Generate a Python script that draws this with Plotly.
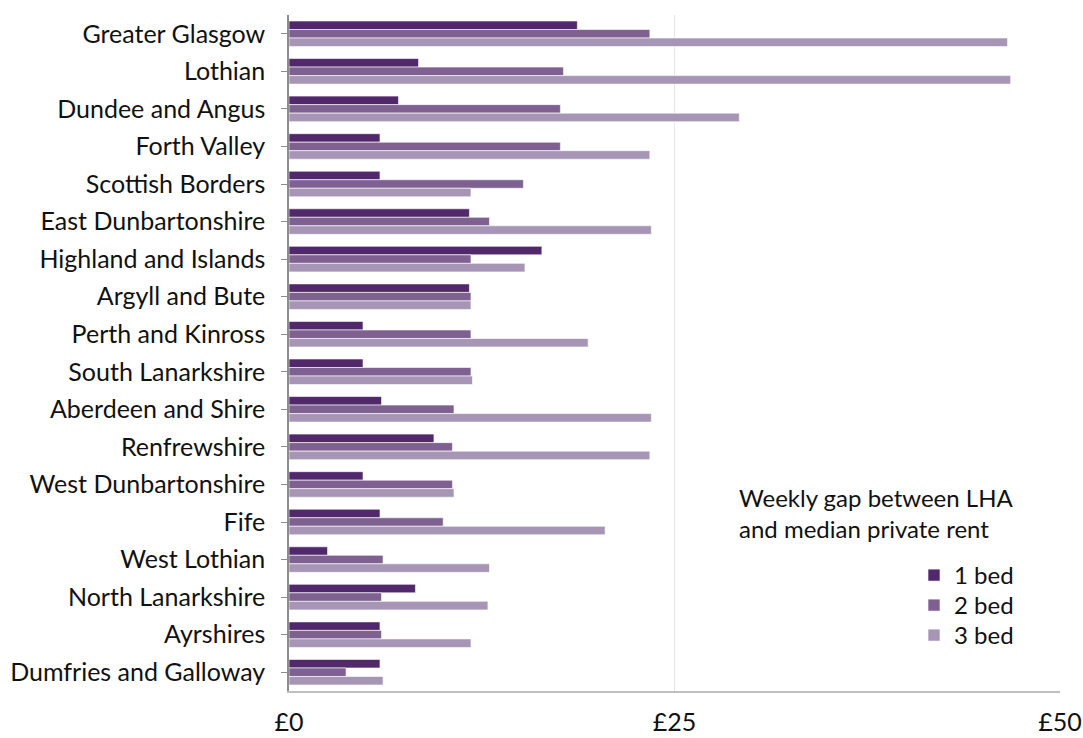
import plotly.graph_objects as go

regions = [
    "Greater Glasgow", "Lothian", "Dundee and Angus", "Forth Valley",
    "Scottish Borders", "East Dunbartonshire", "Highland and Islands",
    "Argyll and Bute", "Perth and Kinross", "South Lanarkshire",
    "Aberdeen and Shire", "Renfrewshire", "West Dunbartonshire", "Fife",
    "West Lothian", "North Lanarkshire", "Ayrshires", "Dumfries and Galloway",
]
bed1 = [18.7, 8.4, 7.1, 5.9, 5.9, 11.7, 16.4, 11.7, 4.8, 4.8,
        6.0, 9.4, 4.8, 5.9, 2.5, 8.2, 5.9, 5.9]
bed2 = [23.4, 17.8, 17.6, 17.6, 15.2, 13.0, 11.8, 11.8, 11.8, 11.8,
        10.7, 10.6, 10.6, 10.0, 6.1, 6.0, 6.0, 3.7]
bed3 = [46.6, 46.8, 29.2, 23.4, 11.8, 23.5, 15.3, 11.8, 19.4, 11.9,
        23.5, 23.4, 10.7, 20.5, 13.0, 12.9, 11.8, 6.1]

series = [("1 bed", bed1, "#51296b"), ("2 bed", bed2, "#7e6190"), ("3 bed", bed3, "#a795b6")]
tick_vals = [0, 25, 50]
tick_text = ["£0", "£25", "£50"]

FONT = "Lato, 'Open Sans', sans-serif"
FS = 25

# plot area in pixels
L, R, T, B = 289, 1060, 15, 691


def px_x(x):
    return (x - L) / (R - L)


def px_y(y):
    return (B - y) / (B - T)


fig = go.Figure()
legend_keys = ["legend", "legend2", "legend3"]
for i, (name, vals, col) in enumerate(series):
    fig.add_trace(go.Bar(
        y=regions, x=vals, name=name, orientation="h",
        marker=dict(color=col, line=dict(color="white", width=0.6)),
        legend=legend_keys[i],
    ))

# one legend box per series so the rows sit at a fixed spacing
legend_style = dict(xanchor="left", yanchor="top", font=dict(size=24),
                    itemwidth=30, bgcolor="rgba(0,0,0,0)")
legends = {}
for i, key in enumerate(legend_keys):
    legends[key] = dict(x=px_x(914), y=px_y(553 + 30 * i), **legend_style)

fig.update_layout(
    width=1083, height=738,
    margin=dict(l=L, r=1083 - R, t=T, b=738 - B),
    paper_bgcolor="white", plot_bgcolor="white",
    barmode="group", bargap=0.32, bargroupgap=0.0,
    font=dict(family=FONT, size=FS, color="#111111"),
    showlegend=True,
    annotations=[dict(
        text="Weekly gap between LHA<br>and median private rent",
        x=px_x(737), y=px_y(481),
        xref="paper", yref="paper", showarrow=False,
        align="left", xanchor="left", yanchor="top",
        font=dict(size=24, family=FONT, color="#111111"),
    )],
    **legends,
)

fig.update_xaxes(
    range=[0, 50], tickvals=tick_vals, ticktext=tick_text, automargin=False,
    showgrid=True, gridcolor="#e6e6e6", gridwidth=1,
    showline=True, linecolor="#bfbfbf", linewidth=1.5,
    ticks="outside", ticklen=8, tickcolor="rgba(0,0,0,0)",
    zeroline=False, tickfont=dict(size=FS),
)
fig.update_yaxes(
    autorange="reversed", automargin=False,
    showline=True, linecolor="#8c8c8c", linewidth=1.5,
    ticks="outside", ticklen=6, tickcolor="#8c8c8c",
    ticklabelstandoff=11, tickfont=dict(size=FS), showgrid=False,
)

fig.write_html("out.html")
